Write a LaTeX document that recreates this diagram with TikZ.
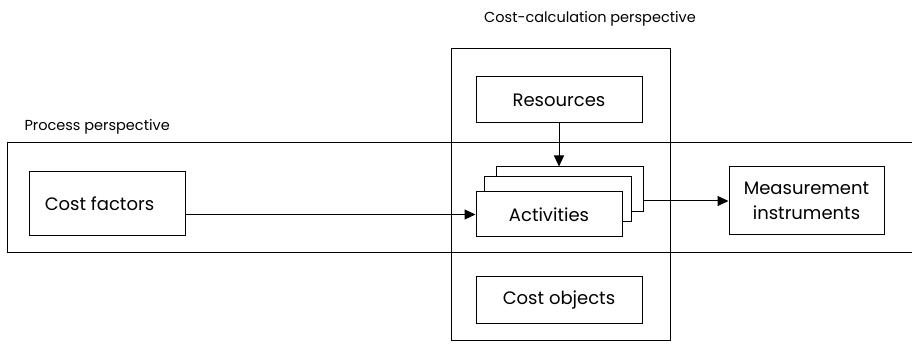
\documentclass[tikz,border=0pt]{standalone}
\usepackage{fontspec}
\setmainfont{Poppins}
\usetikzlibrary{arrows.meta}
\begin{document}
\begin{tikzpicture}[x=1pt,y=-1pt,
  box/.style={draw,line width=1pt,fill=white,inner sep=0pt,font=\fontsize{18}{25}\selectfont},
  band/.style={draw,line width=1pt},
  conn/.style={line width=1pt,-{Triangle[length=11pt,width=10pt]}},
  lbl/.style={font=\fontsize{14.5}{17}\selectfont}]
\useasboundingbox (0,0) rectangle (912,352);
% bands
\draw[band] (912,143) -- (7,143) -- (7,253) -- (912,253);
\draw[band] (451,49) rectangle (670,340);
\node[lbl,anchor=base] (cclabel) at (590,23) {Cost-calculation perspective};
\node[lbl,anchor=base west] (pplabel) at (21,131) {Process perspective};
% nodes
\node[box,minimum width=166pt,minimum height=46pt] (res) at (559,100) {Resources};
\node[box,minimum width=147pt,minimum height=45pt] (act3) at (569.5,189.5) {};
\node[box,minimum width=147pt,minimum height=45pt] (act2) at (557.5,199.5) {};
\node[box,minimum width=146pt,minimum height=45pt] (act) at (549,214.5) {Activities};
\node[box,minimum width=155pt,minimum height=68pt,align=center] (meas) at (806.5,201) {Measurement\\instruments};
\node[box,minimum width=156pt,minimum height=64pt,anchor=west] (cf) at (29,204) {\hspace*{-16pt}Cost factors};
\node[box,minimum width=166pt,minimum height=46pt] (co) at (559,300) {Cost objects};
% connectors
\draw[conn] (res.south) -- (res.south |- act3.north);
\draw[conn] (cf.east |- act.west) -- (act.west);
\draw[conn] (act3.east |- meas.west) -- (meas.west);
\end{tikzpicture}
\end{document}
